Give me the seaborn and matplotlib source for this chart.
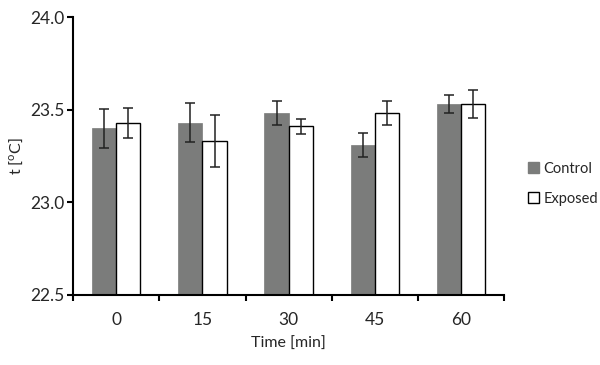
import matplotlib
matplotlib.use("Agg")
import matplotlib.pyplot as plt
import seaborn as sns
import pandas as pd
from matplotlib.patches import Patch

# values
times = ["0", "15", "30", "45", "60"]
control = [23.40, 23.43, 23.48, 23.31, 23.53]
control_err = [0.105, 0.105, 0.065, 0.065, 0.05]
exposed = [23.43, 23.33, 23.41, 23.48, 23.53]
exposed_err = [0.08, 0.14, 0.04, 0.065, 0.075]
groups = ["Control", "Exposed"]

df = pd.DataFrame({
    "time": times * 2,
    "temp": control + exposed,
    "err": control_err + exposed_err,
    "group": [groups[0]] * len(times) + [groups[1]] * len(times),
})

sns.set_style("white")
plt.rcParams["font.family"] = ["Lato", "DejaVu Sans"]

fig = plt.figure(figsize=(6, 3.65), dpi=100)
ax = fig.add_axes([0.122, 0.192, 0.718, 0.761])

gray = "#7b7c7b"
sns.barplot(data=df, x="time", y="temp", hue="group", order=times, hue_order=groups,
            palette=[gray, "white"], width=0.56, errorbar=None, ax=ax, legend=False)

# edges: none on control, black on exposed
bars = ax.patches
for i, p in enumerate(bars):
    if i < len(times):
        p.set_edgecolor(gray)
        p.set_linewidth(0.5)
    else:
        p.set_edgecolor("black")
        p.set_linewidth(1.0)

# error bars at the bar centres
for p, (_, row) in zip(bars, df.iterrows()):
    cx = p.get_x() + p.get_width() / 2
    ax.errorbar(cx, p.get_height() + p.get_y(), yerr=row["err"], fmt="none",
                ecolor="#222222", elinewidth=1.1, capsize=3.5, capthick=1.1)

ax.set_ylim(22.5, 24.0)
ax.set_yticks([22.5, 23.0, 23.5, 24.0])
ax.set_yticklabels(["22.5", "23.0", "23.5", "24.0"])
ax.set_xlim(-0.5, len(times) - 0.5)

# labels centred, tick marks on the category boundaries
ax.tick_params(axis="x", which="major", length=0, pad=12, labelsize=12.5)
ax.set_xticks([i - 0.5 for i in range(len(times) + 1)], minor=True)
ax.tick_params(axis="x", which="minor", length=4, width=1.5, direction="out", color="black")
ax.tick_params(axis="y", length=4, width=1.5, direction="out", color="black", labelsize=12.5, pad=2)
ax.yaxis.set_ticks_position("left")
ax.xaxis.set_ticks_position("bottom")

for side in ["top", "right"]:
    ax.spines[side].set_visible(False)
for side in ["left", "bottom"]:
    ax.spines[side].set_color("black")
    ax.spines[side].set_linewidth(1.5)

ax.set_xlabel("Time [min]", fontsize=11.5, labelpad=7)
ax.set_ylabel("t [$^\\mathregular{o}$C]", fontsize=11.5, labelpad=4)

handles = [Patch(facecolor=gray, edgecolor=gray, label=groups[0]),
           Patch(facecolor="white", edgecolor="black", label=groups[1])]
fig.legend(handles=handles, loc="center left", bbox_to_anchor=(0.875, 0.497), frameon=False,
           borderpad=0.2, borderaxespad=0, fontsize=10.5, handlelength=0.75, handleheight=0.75,
           handletextpad=0.3, labelspacing=1.1)

fig.savefig("out.png", dpi=100)
